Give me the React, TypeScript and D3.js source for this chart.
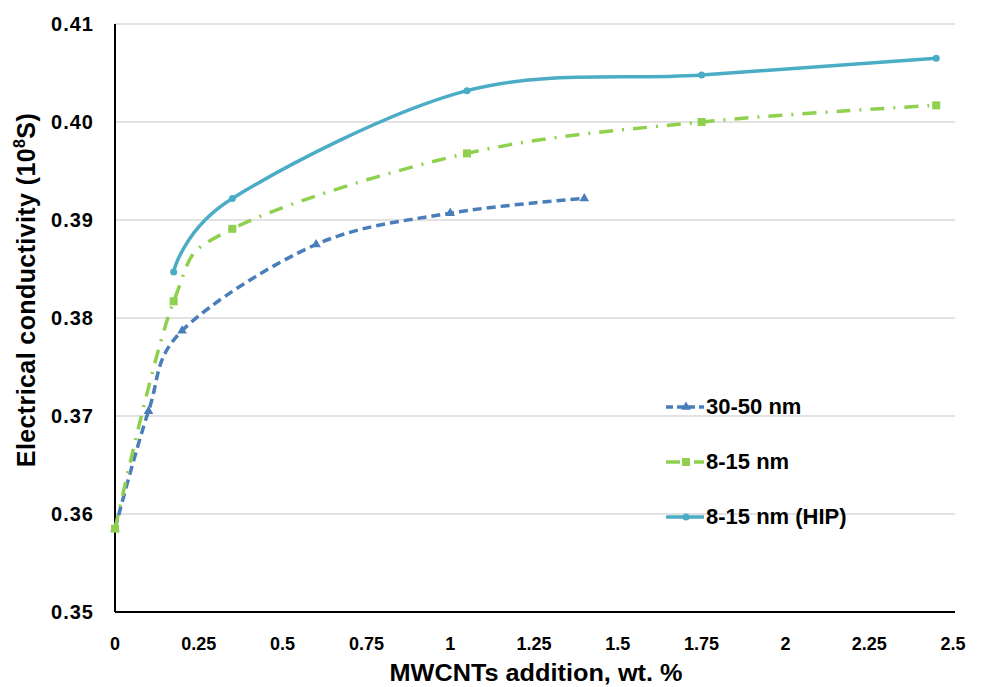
import * as d3 from 'd3';

const xTicks = [0, 0.25, 0.5, 0.75, 1, 1.25, 1.5, 1.75, 2, 2.25, 2.5];
const yTicks = [0.35, 0.36, 0.37, 0.38, 0.39, 0.40, 0.41];

const seriesNames = ['30-50 nm', '8-15 nm', '8-15 nm (HIP)'];
const x3050 = [0, 0.1, 0.2, 0.6, 1.0, 1.4];
const y3050 = [0.3585, 0.3705, 0.3787, 0.3875, 0.3907, 0.3922];
const x815 = [0, 0.175, 0.35, 1.05, 1.75, 2.45];
const y815 = [0.3585, 0.3817, 0.3891, 0.3968, 0.4000, 0.4017];
const xHip = [0.175, 0.35, 1.05, 1.75, 2.45];
const yHip = [0.3847, 0.3922, 0.4032, 0.4048, 0.4065];

const W = 982, H = 687;
const left = 115, right = 953, top = 24, bottom = 612;
const font = 'Liberation Sans, Arial, sans-serif';

const App = () => {
  const x = d3.scaleLinear().domain([0, 2.5]).range([left, right]);
  const y = d3.scaleLinear().domain([0.35, 0.41]).range([bottom, top]);

  const makeLine = d3
    .line<[number, number]>()
    .x((d) => x(d[0]))
    .y((d) => y(d[1]))
    .curve(d3.curveCardinal.tension(0));

  const series = [
    { name: seriesNames[0], xs: x3050, ys: y3050, color: '#4a7ebb', dash: '9 5', lgDash: '7 4', marker: 'tri' },
    { name: seriesNames[1], xs: x815, ys: y815, color: '#8fd14f', dash: '14 9 2 9', lgDash: '14 6 2 6', marker: 'sq' },
    { name: seriesNames[2], xs: xHip, ys: yHip, color: '#4bacc6', dash: '', lgDash: '', marker: 'dot' },
  ];

  const marker = (kind: string, cx: number, cy: number, color: string, key: string) => {
    if (kind === 'tri') {
      const p = d3.symbol().type(d3.symbolTriangle).size(40)();
      return <path key={key} d={p || ''} transform={`translate(${cx},${cy})`} fill={color} />;
    }
    if (kind === 'sq') {
      return <rect key={key} x={cx - 4} y={cy - 4} width={8} height={8} fill={color} />;
    }
    return <circle key={key} cx={cx} cy={cy} r={3.5} fill={color} />;
  };

  const legendY = [407, 462, 517];

  return (
    <svg width={W} height={H} style={{ position: 'absolute', left: 0, top: 0, background: '#fff' }}>
      {yTicks.slice(1).map((t) => (
        <line key={t} x1={left} x2={955} y1={y(t)} y2={y(t)} stroke="#d9d9d9" strokeWidth={1.5} />
      ))}
      <line x1={left} x2={left} y1={top} y2={bottom} stroke="#000" strokeWidth={2} />
      <line x1={left} x2={955} y1={bottom} y2={bottom} stroke="#000" strokeWidth={2} />

      {yTicks.map((t) => (
        <text key={t} x={94} y={y(t) + 7} textAnchor="end" fontFamily={font} fontWeight="bold" fontSize={20} letterSpacing={1} fill="#000">
          {t.toFixed(2)}
        </text>
      ))}
      {xTicks.map((t) => (
        <text key={t} x={x(t)} y={650} textAnchor="middle" fontFamily={font} fontWeight="bold" fontSize={18} fill="#000">
          {String(t)}
        </text>
      ))}

      <text x={536} y={681} textAnchor="middle" fontFamily={font} fontWeight="bold" fontSize={23} textLength={293} lengthAdjust="spacingAndGlyphs" fill="#000">
        MWCNTs addition, wt. %
      </text>
      <text transform="translate(35,290) rotate(-90)" textAnchor="middle" fontFamily={font} fontWeight="bold" fontSize={25} letterSpacing={0.4} fill="#000">
        Electrical conductivity (10<tspan dy={-10} fontSize={16}>8</tspan><tspan dy={10}>S)</tspan>
      </text>

      {series.map((s) => {
        const pts = s.xs.map((v, i) => [v, s.ys[i]] as [number, number]);
        return (
          <g key={s.name}>
            <path d={makeLine(pts) || ''} fill="none" stroke={s.color} strokeWidth={3.5} strokeDasharray={s.dash} />
            {pts.map((p, i) => marker(s.marker, x(p[0]), y(p[1]), s.color, `${s.name}-${i}`))}
          </g>
        );
      })}

      {series.map((s, i) => (
        <g key={`lg-${s.name}`}>
          <line x1={666} x2={704} y1={legendY[i]} y2={legendY[i]} stroke={s.color} strokeWidth={3.5} strokeDasharray={s.lgDash} />
          {marker(s.marker, 686, legendY[i], s.color, `lgm-${i}`)}
          <text x={706} y={legendY[i] + 7} fontFamily={font} fontWeight="bold" fontSize={22} fill="#000">
            {s.name}
          </text>
        </g>
      ))}
    </svg>
  );
};

export default App;
